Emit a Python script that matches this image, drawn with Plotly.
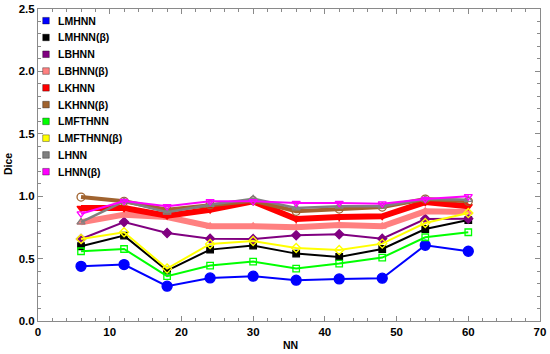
import plotly.graph_objects as go

nn = [6, 12, 18, 24, 30, 36, 42, 48, 54, 60]

names = ["LMHNN", "LMHNN(β)", "LBHNN", "LBHNN(β)", "LKHNN", "LKHNN(β)",
         "LMFTHNN", "LMFTHNN(β)", "LHNN", "LHNN(β)"]

lmhnn      = [0.438, 0.452, 0.279, 0.345, 0.359, 0.327, 0.337, 0.343, 0.607, 0.559]
lmhnn_b    = [0.599, 0.684, 0.404, 0.572, 0.604, 0.540, 0.513, 0.577, 0.737, 0.809]
lbhnn      = [0.657, 0.793, 0.705, 0.660, 0.657, 0.687, 0.695, 0.660, 0.817, 0.820]
lbhnn_b    = [0.791, 0.852, 0.833, 0.759, 0.759, 0.751, 0.769, 0.759, 0.879, 0.873]
lkhnn      = [0.905, 0.905, 0.844, 0.892, 0.959, 0.817, 0.833, 0.839, 0.953, 0.919]
lkhnn_b    = [0.993, 0.959, 0.892, 0.932, 0.964, 0.879, 0.897, 0.913, 0.977, 0.959]
lmfthnn    = [0.559, 0.577, 0.359, 0.444, 0.476, 0.420, 0.460, 0.508, 0.671, 0.711]
lmfthnn_b  = [0.657, 0.711, 0.420, 0.617, 0.641, 0.585, 0.569, 0.620, 0.785, 0.865]
lhnn       = [0.793, 0.959, 0.871, 0.932, 0.980, 0.905, 0.919, 0.919, 0.977, 0.972]
lhnn_b     = [0.860, 0.961, 0.919, 0.959, 0.959, 0.945, 0.945, 0.940, 0.977, 0.999]

x_tick_vals = [0, 10, 20, 30, 40, 50, 60, 70]
x_tick_labels = ["0", "10", "20", "30", "40", "50", "60", "70"]
y_tick_vals = [0.0, 0.5, 1.0, 1.5, 2.0, 2.5]
y_tick_labels = ["0.0", "0.5", "1.0", "1.5", "2.0", "2.5"]

series = [lmhnn, lmhnn_b, lbhnn, lbhnn_b, lkhnn, lkhnn_b, lmfthnn, lmfthnn_b, lhnn, lhnn_b]

colors = ["#0000FF", "#000000", "#800080", "#FF8080", "#FF0000", "#A0632F",
          "#00FF00", "#FFFF00", "#808080", "#FF00FF"]
widths = [2, 2, 2, 6, 6, 4, 2, 2, 2.5, 2]
symbols = ["circle", "square", "diamond", "triangle-up", "triangle-down",
           "circle-open", "square-open", "diamond-open", "triangle-up-open", "triangle-down-open"]
msizes = [10, 6.5, 7, 7, 7, 8, 6.5, 7, 7, 7]

FONT = "Liberation Sans, Arial, sans-serif"

fig = go.Figure()
for name, ys, c, w, s, ms in zip(names, series, colors, widths, symbols, msizes):
    fig.add_trace(go.Scatter(
        x=nn, y=ys, mode="lines+markers", name=name, showlegend=False,
        line=dict(color=c, width=w),
        marker=dict(symbol=s, size=ms, color=c, line=dict(color=c, width=1.3)),
    ))

# plot-area geometry (pixels)
W, H = 550, 354
ML, MR, MT, MB = 38, 10, 9, 33
PW, PH = W - ML - MR, H - MT - MB

def px_to_paper_x(px):
    return (px - ML) / PW

def px_to_paper_y(py):
    return (H - MB - py) / PH

# manual legend (swatches + labels)
shapes = []
annotations = []
y0 = 20.7
step = 16.78
half = 3.3
for i, (name, c) in enumerate(zip(names, colors)):
    cy = y0 + i * step
    shapes.append(dict(
        type="rect", xref="paper", yref="paper",
        x0=px_to_paper_x(46 - half), x1=px_to_paper_x(46 + half),
        y0=px_to_paper_y(cy + half), y1=px_to_paper_y(cy - half),
        fillcolor=c, line=dict(color="rgba(0,0,0,0.35)", width=1),
    ))
    annotations.append(dict(
        xref="paper", yref="paper", x=px_to_paper_x(56), y=px_to_paper_y(cy),
        xanchor="left", yanchor="middle", showarrow=False, text="<b>" + name + "</b>",
        font=dict(family=FONT, size=10.5, color="black"),
    ))

# axis titles
annotations.append(dict(
    xref="paper", yref="paper", x=px_to_paper_x(290), y=px_to_paper_y(345),
    xanchor="center", yanchor="middle", showarrow=False, text="<b>NN</b>",
    font=dict(family=FONT, size=10.5, color="black"),
))
annotations.append(dict(
    xref="paper", yref="paper", x=px_to_paper_x(8), y=px_to_paper_y(164),
    xanchor="center", yanchor="middle", showarrow=False, text="<b>Dice</b>", textangle=-90,
    font=dict(family=FONT, size=10.5, color="black"),
))

axis_common = dict(
    showgrid=False, zeroline=False, showline=True, linecolor="#8a8a8a", linewidth=1,
    mirror="ticks", ticks="inside", ticklen=5, tickcolor="#8a8a8a", automargin=False,
    tickfont=dict(family=FONT, size=11.5, color="black"),
)

fig.update_layout(
    width=W, height=H,
    margin=dict(l=ML, r=MR, t=MT, b=MB),
    paper_bgcolor="white", plot_bgcolor="white",
    font=dict(family=FONT, size=11, color="black"),
    showlegend=False,
    xaxis=dict(range=[0, 70], tickmode="array", tickvals=x_tick_vals,
               ticktext=["<b>" + t + "</b>" for t in x_tick_labels],
               minor=dict(dtick=2, tick0=0, ticks="inside", ticklen=3, tickcolor="#8a8a8a"),
               **axis_common),
    yaxis=dict(range=[0, 2.5], tickmode="array", tickvals=y_tick_vals,
               ticktext=["<b>" + t + "</b>" for t in y_tick_labels],
               minor=dict(dtick=0.1, tick0=0, ticks="inside", ticklen=3, tickcolor="#8a8a8a"),
               **axis_common),
    shapes=shapes,
    annotations=annotations,
)

fig.write_html("out.html", config={"displayModeBar": False},
               post_script="document.body.style.margin='0';document.body.style.padding='0';")
